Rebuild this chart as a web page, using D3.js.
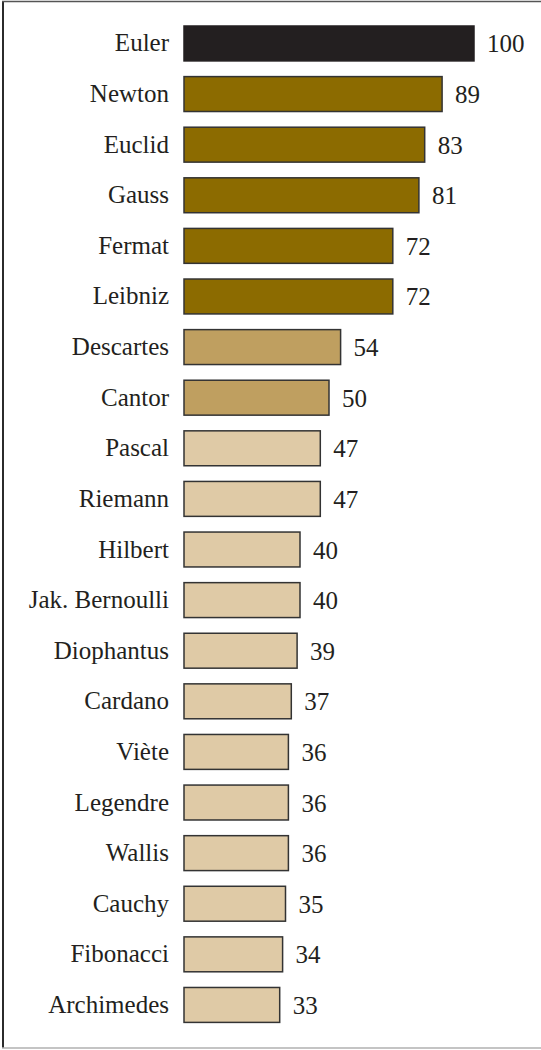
<!DOCTYPE html>
<html>
<head>
<meta charset="utf-8">
<script src="https://cdn.jsdelivr.net/npm/d3@7"></script>
<style>
  html, body { margin: 0; padding: 0; background: #fff; }
  svg { display: block; }
</style>
</head>
<body>
<script>
// Mathematicians ranked by score (Euler = 100)
const names = ["Euler", "Newton", "Euclid", "Gauss", "Fermat", "Leibniz", "Descartes", "Cantor",
  "Pascal", "Riemann", "Hilbert", "Jak. Bernoulli", "Diophantus", "Cardano", "Viète",
  "Legendre", "Wallis", "Cauchy", "Fibonacci", "Archimedes"];
const scores = [100, 89, 83, 81, 72, 72, 54, 50, 47, 47, 40, 40, 39, 37, 36, 36, 36, 35, 34, 33];
// Shading tier of each bar
const tiers = ["top", "high", "high", "high", "high", "high", "mid", "mid",
  "low", "low", "low", "low", "low", "low", "low", "low", "low", "low", "low", "low"];

const W = 541, H = 1050;
const FONT = "'Times New Roman', Times, 'Liberation Serif', Tinos, 'DejaVu Serif', 'Noto Serif', FreeSerif, serif";
const tierColor = d3.scaleOrdinal()
  .domain(["top", "high", "mid", "low"])
  .range(["#231f20", "#8c6b00", "#bf9f60", "#dfcaa6"]);

const rows = names.map((n, i) => ({ name: n, value: scores[i], tier: tiers[i] }));

const svg = d3.select("body").append("svg").attr("width", W).attr("height", H)
  .style("font-family", FONT);

// frame
svg.append("line").attr("x1", 3).attr("x2", 3).attr("y1", 1).attr("y2", 1048)
  .attr("stroke", "#2b2b2b").attr("stroke-width", 2);
svg.append("line").attr("x1", 2).attr("x2", W).attr("y1", 1.5).attr("y2", 1.5)
  .attr("stroke", "#555").attr("stroke-width", 1.5);
svg.append("line").attr("x1", 2).attr("x2", W).attr("y1", 1048).attr("y2", 1048)
  .attr("stroke", "#b0b0b0").attr("stroke-width", 1.5);

const x = d3.scaleLinear().domain([0, 100]).range([184, 474]);
const y = d3.scaleBand().domain(names).range([26, 1022.4]).paddingInner(0.31).paddingOuter(0);

const row = svg.append("g").selectAll("g").data(rows).join("g");

row.append("rect")
  .attr("x", x(0))
  .attr("y", d => y(d.name))
  .attr("width", d => x(d.value) - x(0))
  .attr("height", y.bandwidth())
  .attr("fill", d => tierColor(d.tier))
  .attr("stroke", d => d.tier === "top" ? "#231f20" : "#333")
  .attr("stroke-width", 1.5);

row.append("text")
  .attr("x", x(0) - 15)
  .attr("y", d => y(d.name) + y.bandwidth() / 2 + 8)
  .attr("text-anchor", "end")
  .attr("font-family", FONT)
  .attr("font-size", 25)
  .attr("fill", "#231f20")
  .text(d => d.name);

row.append("text")
  .attr("x", d => x(d.value) + 13)
  .attr("y", d => y(d.name) + y.bandwidth() / 2 + 9)
  .attr("font-family", FONT)
  .attr("font-size", 25)
  .attr("fill", "#231f20")
  .text(d => d.value);
</script>
</body>
</html>
